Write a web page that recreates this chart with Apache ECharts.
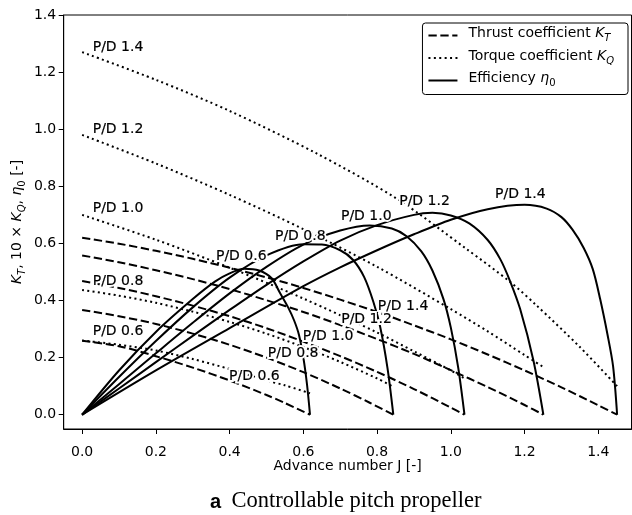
<!DOCTYPE html>
<html><head><meta charset="utf-8">
<script src="https://cdn.jsdelivr.net/npm/echarts@6/dist/echarts.min.js"></script>
<style>html,body{margin:0;padding:0;background:#fff}#c{width:632px;height:515px}</style>
</head><body><div id="c"></div>
<script>
// ---- tick labels ----
const ticksX = [0, 0.2, 0.4, 0.6, 0.8, 1.0, 1.2, 1.4];
const ticksY = [0, 0.2, 0.4, 0.6, 0.8, 1.0, 1.2, 1.4];
const pitchRatios = ['0.6', '0.8', '1.0', '1.2', '1.4'];

// ---- thrust coefficient K_T  [J, KT] ----
const kt06 = [[0,0.259],[0.1,0.240],[0.2,0.205],[0.3,0.165],[0.4,0.120],[0.5,0.069],[0.55,0.041],[0.618,0]];
const kt08 = [[0,0.367],[0.1,0.345],[0.2,0.318],[0.3,0.284],[0.4,0.245],[0.5,0.200],[0.6,0.149],[0.7,0.092],[0.78,0.042],[0.844,0]];
const kt10 = [[0,0.468],[0.1,0.444],[0.2,0.415],[0.3,0.382],[0.4,0.345],[0.5,0.303],[0.6,0.256],[0.7,0.205],[0.8,0.150],[0.9,0.090],[1.0,0.025],[1.037,0]];
const kt12 = [[0,0.558],[0.1,0.534],[0.2,0.506],[0.3,0.475],[0.4,0.440],[0.5,0.401],[0.6,0.360],[0.7,0.314],[0.8,0.265],[0.9,0.213],[1.0,0.156],[1.1,0.097],[1.2,0.034],[1.251,0]];
const kt14 = [[0,0.620],[0.1,0.599],[0.2,0.574],[0.3,0.546],[0.4,0.515],[0.5,0.481],[0.6,0.444],[0.7,0.403],[0.8,0.360],[0.9,0.313],[1.0,0.264],[1.1,0.211],[1.2,0.155],[1.3,0.096],[1.4,0.033],[1.451,0]];

// ---- torque coefficient 10 x K_Q  [J, 10KQ] ----
const kq06 = [[0,0.260],[0.1,0.245],[0.2,0.225],[0.3,0.195],[0.4,0.160],[0.5,0.120],[0.55,0.103],[0.618,0.075]];
const kq08 = [[0,0.437],[0.1,0.417],[0.2,0.392],[0.3,0.361],[0.4,0.325],[0.5,0.284],[0.6,0.237],[0.7,0.185],[0.8,0.127],[0.844,0.098]];
const kq10 = [[0,0.700],[0.2,0.613],[0.4,0.515],[0.6,0.407],[0.8,0.288],[0.9,0.222],[1.0,0.155],[1.037,0.127]];
const kq12 = [[0,0.980],[0.2,0.880],[0.4,0.770],[0.6,0.650],[0.8,0.518],[1.0,0.370],[1.1,0.292],[1.2,0.209],[1.251,0.167]];
const kq14 = [[0,1.270],[0.2,1.173],[0.4,1.064],[0.636,0.915],[0.853,0.757],[1.043,0.580],[1.161,0.465],[1.233,0.382],[1.35,0.237],[1.451,0.100]];

// ---- open water efficiency eta_0  [J, eta] ----
const eta06 = [[0,0],[0.1,0.155],[0.2,0.290],[0.3,0.405],[0.36,0.466],[0.4,0.495],[0.44,0.511],[0.48,0.505],[0.514,0.478],[0.536,0.428],[0.559,0.375],[0.575,0.330],[0.588,0.280],[0.6,0.200],[0.61,0.105],[0.618,0]];
const eta08 = [[0,0],[0.1,0.132],[0.2,0.258],[0.3,0.376],[0.4,0.480],[0.5,0.558],[0.6,0.597],[0.65,0.596],[0.7,0.576],[0.735,0.542],[0.765,0.482],[0.79,0.395],[0.808,0.310],[0.828,0.165],[0.844,0]];
const eta10 = [[0,0],[0.1,0.107],[0.2,0.215],[0.3,0.322],[0.4,0.425],[0.5,0.518],[0.6,0.596],[0.7,0.645],[0.78,0.663],[0.84,0.652],[0.88,0.625],[0.92,0.572],[0.95,0.505],[0.98,0.405],[1.0,0.305],[1.02,0.165],[1.037,0]];
const eta12 = [[0,0],[0.1,0.092],[0.2,0.184],[0.3,0.276],[0.4,0.367],[0.5,0.455],[0.6,0.537],[0.7,0.610],[0.8,0.664],[0.9,0.700],[0.95,0.707],[1.0,0.698],[1.05,0.670],[1.1,0.612],[1.134,0.545],[1.16,0.470],[1.188,0.370],[1.224,0.190],[1.251,0]];
const eta14 = [[0,0],[0.2,0.155],[0.4,0.303],[0.6,0.450],[0.7,0.516],[0.8,0.576],[0.9,0.632],[1.0,0.683],[1.1,0.720],[1.2,0.735],[1.26,0.722],[1.3,0.692],[1.33,0.648],[1.36,0.585],[1.385,0.510],[1.405,0.405],[1.425,0.280],[1.44,0.170],[1.451,0]];

// ---- curve annotations [J, value, text] ----
const kqLabels  = [[0.03,1.268,'P/D 1.4'],[0.03,0.979,'P/D 1.2'],[0.03,0.705,'P/D 1.0'],[0.03,0.448,'P/D 0.8'],[0.03,0.273,'P/D 0.6']];
const ktLabels  = [[0.4,0.1155,'P/D 0.6'],[0.505,0.197,'P/D 0.8'],[0.6,0.256,'P/D 1.0'],[0.704,0.314,'P/D 1.2'],[0.803,0.361,'P/D 1.4']];
const etaLabels = [[0.433,0.536,'P/D 0.6'],[0.593,0.606,'P/D 0.8'],[0.772,0.676,'P/D 1.0'],[0.93,0.728,'P/D 1.2'],[1.19,0.751,'P/D 1.4']];

const NAME_KT = 'Thrust coefficient KT';
const NAME_KQ = 'Torque coefficient KQ';
const NAME_ETA = 'Efficiency eta0';

const FONT = 'DejaVu Sans';
const DASHED = [8.3, 3.6];
const DOTTED = [2, 3.3];

function curve(name, data, dash) {
  return {
    type: 'line', name: name, data: data, symbol: 'none', showSymbol: false,
    smooth: 0.3, silent: true, z: 2,
    lineStyle: { color: '#000', width: 2, type: dash, cap: 'butt' },
    itemStyle: { color: '#000' }
  };
}
function labels(arr, align, halo) {
  return {
    type: 'scatter', data: arr.map(l => ({ value: [l[0], l[1]], name: l[2] })),
    symbolSize: 1, itemStyle: { color: '#fff', opacity: 0 }, silent: true, z: halo ? 10 : 11,
    label: {
      show: true, formatter: '{b}', position: [0, 0], align: align, verticalAlign: 'bottom',
      offset: [0, 2], fontSize: 14, fontFamily: FONT, opacity: 1,
      color: halo ? '#fff' : '#000',
      textBorderColor: halo ? '#fff' : '#000', textBorderWidth: halo ? 4 : 0.2
    }
  };
}

const series = [];
[kt06, kt08, kt10, kt12, kt14].forEach(d => series.push(curve(NAME_KT, d, DASHED)));
[kq06, kq08, kq10, kq12, kq14].forEach(d => series.push(curve(NAME_KQ, d, DOTTED)));
[eta06, eta08, eta10, eta12, eta14].forEach(d => series.push(curve(NAME_ETA, d, 'solid')));
[[kqLabels, 'left'], [ktLabels, 'left'], [etaLabels, 'center']].forEach(p => {
  series.push(labels(p[0], p[1], true));
  series.push(labels(p[0], p[1], false));
});

const richBase = {
  n: { fontSize: 14, fontFamily: FONT, color: '#000', lineHeight: 16, padding: [0, 0, 4, 0] },
  i: { fontSize: 14, fontFamily: FONT, color: '#000', fontStyle: 'italic', lineHeight: 16, padding: [0, 0, 4, 0] },
  s: { fontSize: 10, fontFamily: FONT, color: '#000', fontStyle: 'italic', lineHeight: 11, verticalAlign: 'bottom' },
  z: { fontSize: 10, fontFamily: FONT, color: '#000', lineHeight: 11, verticalAlign: 'bottom' }
};

const legendText = {};
legendText[NAME_KT] = '{n|Thrust coefficient }{i|K}{s|T}';
legendText[NAME_KQ] = '{n|Torque coefficient }{i|K}{s|Q}';
legendText[NAME_ETA] = '{n|Efficiency }{i|η}{z|0}';

const ICON_DASHED = 'path://M0,0h8.3v2h-8.3z M11.9,0h8.3v2h-8.3z M23.8,0h5.2v2h-5.2z';
const ICON_DOTTED = 'path://M0,0h2v2h-2z M5.4,0h2v2h-2z M10.8,0h2v2h-2z M16.2,0h2v2h-2z M21.6,0h2v2h-2z M27,0h2v2h-2z';
const ICON_SOLID = 'path://M0,0h29v2h-29z';

const fmt = v => v.toFixed(1);

const option = {
  animation: false,
  backgroundColor: '#fff',
  grid: { left: 63.7, right: 0.5, top: 15, bottom: 86, show: true, borderColor: '#000', borderWidth: 1,
          containLabel: false, outerBoundsMode: 'none' },
  xAxis: {
    type: 'value', min: -0.05, max: 1.49,
    name: 'Advance number J [-]', nameLocation: 'middle', nameGap: 30, nameMoveOverlap: false,
    nameTextStyle: { fontSize: 14, fontFamily: FONT, color: '#000' },
    axisLine: { show: true, onZero: false, lineStyle: { color: '#000', width: 1 } },
    axisTick: { show: true, inside: false, length: 5, customValues: ticksX, lineStyle: { color: '#000', width: 1 } },
    axisLabel: { customValues: ticksX, formatter: fmt, fontSize: 14, fontFamily: FONT, color: '#000', margin: 16 },
    splitLine: { show: false }
  },
  yAxis: {
    type: 'value', min: -0.05, max: 1.4,
    name: '{i|K}{s|T}{n|, 10 × }{i|K}{s|Q}{n|, }{i|η}{z|0}{n| [-]}',
    nameLocation: 'middle', nameGap: 36, nameRotate: 90, nameMoveOverlap: false,
    nameTextStyle: { rich: richBase },
    axisLine: { show: true, onZero: false, lineStyle: { color: '#000', width: 1 } },
    axisTick: { show: true, inside: false, length: 5, customValues: ticksY, lineStyle: { color: '#000', width: 1 } },
    axisLabel: { customValues: ticksY, formatter: fmt, fontSize: 14, fontFamily: FONT, color: '#000', margin: 7.5 },
    splitLine: { show: false }
  },
  legend: {
    data: [
      { name: NAME_KT, icon: ICON_DASHED },
      { name: NAME_KQ, icon: ICON_DOTTED },
      { name: NAME_ETA, icon: ICON_SOLID }
    ],
    orient: 'vertical', right: 4, top: 23,
    itemWidth: 29, itemHeight: 14, itemGap: 4.5, padding: [3.5, 14, 5, 6],
    symbolKeepAspect: true,
    backgroundColor: '#fff', borderColor: '#000', borderWidth: 1, borderRadius: 3,
    selectedMode: false,
    formatter: name => legendText[name],
    textStyle: { fontSize: 14, fontFamily: FONT, color: '#000', padding: [0, 0, 0, 6], rich: richBase }
  },
  graphic: [
    { type: 'text', left: 210, top: 492, style: { text: 'a', font: 'bold 20px "Liberation Sans"', fill: '#000' } },
    { type: 'text', left: 231.5, top: 490, style: { text: 'Controllable pitch propeller', font: '22.5px "Liberation Serif"', fill: '#000' } }
  ],
  series: series
};

const chart = echarts.init(document.getElementById('c'), null, { renderer: 'canvas' });
chart.setOption(option);
</script></body></html>
